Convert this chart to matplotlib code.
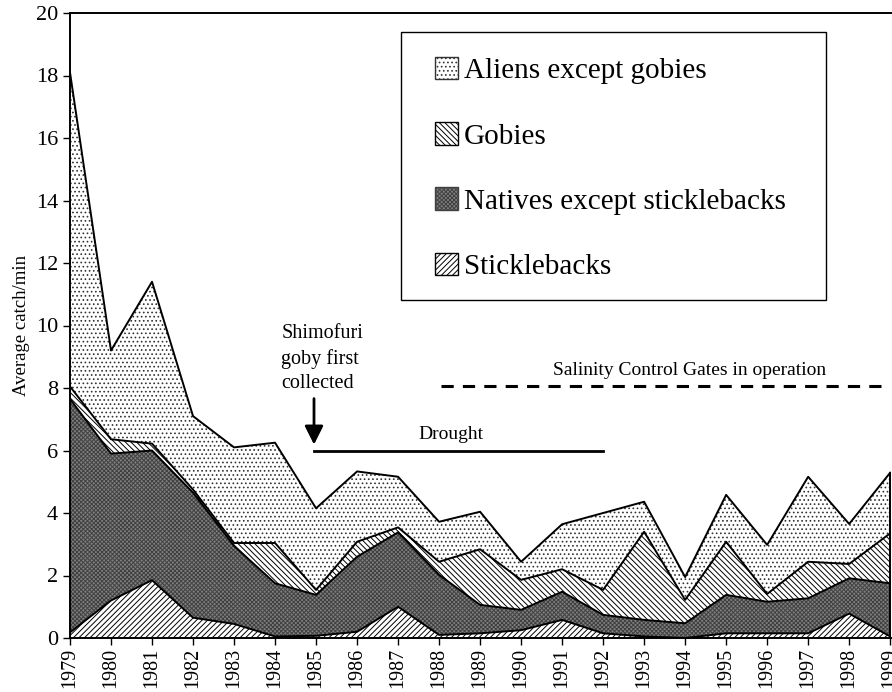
import matplotlib.pyplot as plt
from matplotlib.patches import Patch, Rectangle

plt.rcParams['font.family'] = ['Liberation Serif', 'DejaVu Serif']
plt.rcParams['hatch.linewidth'] = 0.7

anos = list(range(1979, 2000))
# valores por grupo (no acumulados)
espinosos = [0.18, 1.2, 1.85, 0.65, 0.45, 0.05, 0.07, 0.2, 1.0, 0.1, 0.15,
             0.25, 0.58, 0.15, 0.05, 0.0, 0.15, 0.15, 0.15, 0.78, 0.05]
nativos_tot = [7.65, 5.9, 6.0, 4.65, 2.95, 1.75, 1.38, 2.6, 3.38, 2.02, 1.06,
               0.9, 1.48, 0.74, 0.58, 0.47, 1.38, 1.16, 1.27, 1.91, 1.75]
gobios_tot = [8.05, 6.36, 6.22, 4.75, 3.04, 3.04, 1.54, 3.08, 3.54, 2.44, 2.84,
              1.86, 2.2, 1.54, 3.4, 1.22, 3.08, 1.41, 2.44, 2.37, 3.35]
total = [18.1, 9.2, 11.4, 7.1, 6.1, 6.25, 4.15, 5.33, 5.16, 3.72, 4.04,
         2.44, 3.64, 4.0, 4.36, 1.95, 4.58, 2.98, 5.16, 3.65, 5.29]

nativos = [n - e for n, e in zip(nativos_tot, espinosos)]
gobios = [g - n for g, n in zip(gobios_tot, nativos_tot)]
alienos = [t - g for t, g in zip(total, gobios_tot)]

fig = plt.figure(figsize=(8.92, 6.92), dpi=100)
ax = fig.add_axes([70 / 892, 54 / 692, 821 / 892, 625 / 692])

capas = [
    (espinosos, 'white', 'black', '//////', 'Sticklebacks'),
    (nativos, '0.5', '0.25', 'xxxxxxxx', 'Natives except sticklebacks'),
    (gobios, 'white', 'black', '\\\\\\\\\\\\', 'Gobies'),
    (alienos, 'white', '0.2', '....', 'Aliens except gobies'),
]

base = [0.0] * len(anos)
handles = []
for vals, fc, hc, hatch, nombre in capas:
    arriba = [b + v for b, v in zip(base, vals)]
    ax.fill_between(anos, base, arriba, facecolor=fc, edgecolor=hc,
                    hatch=hatch, linewidth=0)
    ax.plot(anos, arriba, color='black', lw=1.4)
    handles.append(Patch(facecolor=fc, edgecolor=hc, hatch=hatch, label=nombre))
    base = arriba

ax.plot([anos[-1], anos[-1]], [0, total[-1]], color='black', lw=1.4)

ax.set_xlim(1979, 1999.02)
ax.set_ylim(0, 20)
ax.set_yticks(range(0, 21, 2))
ax.set_xticks(anos)
ax.set_xticklabels([str(a) for a in anos], rotation=90)
ax.tick_params(axis='y', direction='out', labelsize=16, length=5, width=1)
ax.tick_params(axis='x', direction='out', labelsize=14.5, length=5, width=1,
               pad=2)
ax.set_ylabel('Average catch/min', fontsize=13.5, labelpad=4)
ax.spines['right'].set_visible(False)
for s in ['left', 'bottom', 'top']:
    ax.spines[s].set_linewidth(1.4)

# anotaciones
ax.text(1984.15, 10.05, 'Shimofuri\ngoby first\ncollected', fontsize=14.5,
        va='top', ha='left', linespacing=1.4)
ax.annotate('', xy=(1984.95, 6.1), xytext=(1984.95, 7.75),
            arrowprops=dict(arrowstyle='-|>', color='black', lw=2,
                            mutation_scale=28))
ax.plot([1984.95, 1992], [6.0, 6.0], color='black', lw=2)
ax.text(1988.3, 6.25, 'Drought', fontsize=14, ha='center', va='bottom')
ax.plot([1988.05, 1999], [8.05, 8.05], color='black', lw=2.2, ls=(0, (4, 3)))
ax.text(1994.1, 8.3, 'Salinity Control Gates in operation', fontsize=14,
        ha='center', va='bottom')

# caja de la leyenda
fig.patches.append(Rectangle((401 / 892, 1 - 300 / 692), 425 / 892, 268 / 692,
                             transform=fig.transFigure, facecolor='none',
                             edgecolor='black', lw=1.0))
leg = ax.legend(handles=handles[::-1], loc='upper left',
                bbox_to_anchor=(435 / 892, 1 - 57 / 692),
                bbox_transform=fig.transFigure, fontsize=21,
                labelspacing=1.3, handlelength=0.8, handleheight=0.8,
                handletextpad=0.2, borderpad=0, borderaxespad=0,
                frameon=False)

fig.savefig('out.png', dpi=100)
